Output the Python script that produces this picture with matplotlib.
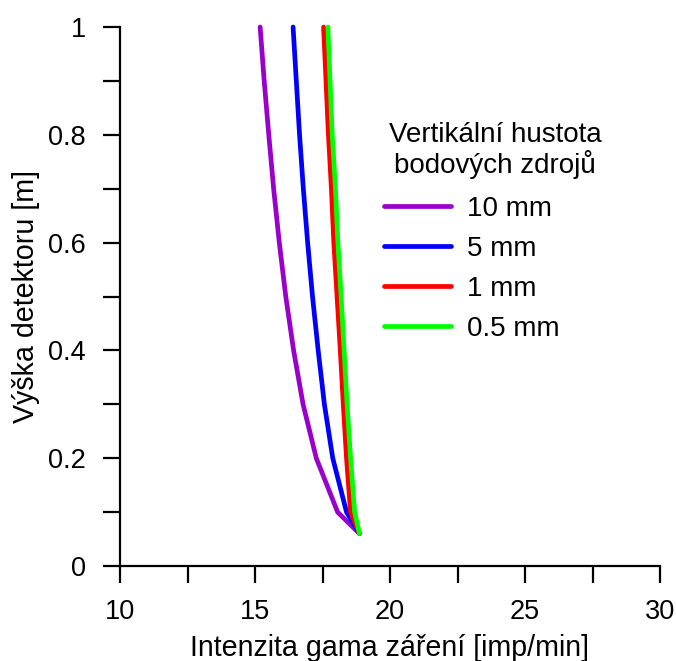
import matplotlib
matplotlib.use("Agg")
import matplotlib.pyplot as plt

plt.rcParams['font.family'] = ['Liberation Sans', 'DejaVu Sans']

# detector heights [m]
heights = [1.0, 0.9, 0.8, 0.7, 0.6, 0.5, 0.4, 0.3, 0.2, 0.1, 0.06]

# gamma intensity [imp/min] for each vertical density of point sources
i_10mm = [15.19, 15.34, 15.51, 15.69, 15.90, 16.14, 16.43, 16.78, 17.27, 18.06, 18.87]
i_5mm = [16.41, 16.53, 16.65, 16.79, 16.95, 17.13, 17.34, 17.57, 17.88, 18.39, 18.87]
i_1mm = [17.54, 17.63, 17.72, 17.83, 17.92, 18.04, 18.16, 18.27, 18.39, 18.54, 18.87]
i_05mm = [17.70, 17.78, 17.86, 17.98, 18.07, 18.19, 18.30, 18.41, 18.54, 18.69, 18.87]

series_labels = ['10 mm', '5 mm', '1 mm', '0.5 mm']
series_colors = ['#9900CC', '#0000FF', '#FF0000', '#00FF00']
legend_title = ['Vertikální hustota', 'bodových zdrojů']

x_ticks = [10, 12.5, 15, 17.5, 20, 22.5, 25, 27.5, 30]
x_labels = ['10', '', '15', '', '20', '', '25', '', '30']
y_ticks = [0, 0.1, 0.2, 0.3, 0.4, 0.5, 0.6, 0.7, 0.8, 0.9, 1.0]
y_labels = ['0', '', '0.2', '', '0.4', '', '0.6', '', '0.8', '', '1']

FS = 20
FS_AXIS = 20.6

W, H = 676, 661
fig = plt.figure(figsize=(W / 100, H / 100), dpi=100)
ax = fig.add_axes([120 / W, (H - 566) / H, 540 / W, 539 / H])

for vals, lab, col in zip([i_10mm, i_5mm, i_1mm, i_05mm], series_labels, series_colors):
    ax.plot(vals, heights, color=col, lw=3.4, label=lab,
            solid_capstyle='round', solid_joinstyle='round', clip_on=False)

ax.set_xlim(10, 30)
ax.set_ylim(0, 1)
ax.set_xticks(x_ticks)
ax.set_xticklabels(x_labels)
ax.set_yticks(y_ticks)
ax.set_yticklabels(y_labels)

for s in ['top', 'right']:
    ax.spines[s].set_visible(False)
for s in ['left', 'bottom']:
    ax.spines[s].set_linewidth(1.6)

ax.tick_params(axis='both', direction='out', length=12.5, width=1.6,
               labelsize=19.5, colors='black')
ax.tick_params(axis='x', pad=11)
ax.tick_params(axis='y', pad=12)

fig.text(390 / W, 4.5 / H, 'Intenzita gama záření [imp/min]', fontsize=FS_AXIS,
         ha='center', va='baseline')
fig.text(26 / W, 1 - 297 / H, 'Výška detektoru [m]', fontsize=FS_AXIS,
         ha='center', va='center', rotation=90)

# legend heading, two centred lines
for line, base in zip(legend_title, [142, 173]):
    fig.text(495 / W, 1 - base / H, line, fontsize=FS, ha='center', va='baseline')

leg = ax.legend(loc='center left', bbox_to_anchor=(384 / W, 1 - 269 / H),
                bbox_transform=fig.transFigure, frameon=False,
                fontsize=FS, handlelength=2.4,
                handletextpad=0.6, labelspacing=0.5, borderpad=0,
                borderaxespad=0)

fig.savefig('out.png', dpi=100)
